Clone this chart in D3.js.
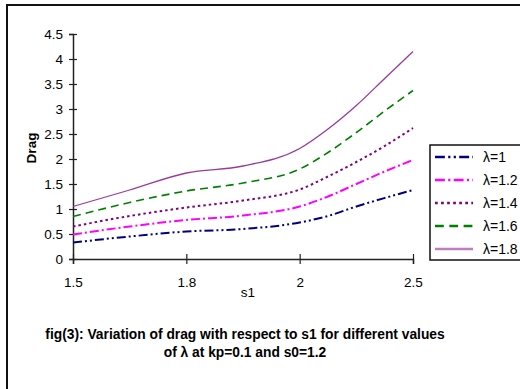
<!DOCTYPE html>
<html>
<head>
<meta charset="utf-8">
<script src="https://cdn.jsdelivr.net/npm/d3@7/dist/d3.min.js"></script>
<style>
  body { margin: 0; padding: 0; background: #fff; }
  svg text { font-family: "Liberation Sans", Arial, sans-serif; fill: #000; }
</style>
</head>
<body>
<svg id="chart" width="520" height="389"></svg>
<script>
// s1 tick labels, equally spaced along the category axis
const s1 = ["1.5", "1.8", "2", "2.5"];
const yTicks = [0, 0.5, 1, 1.5, 2, 2.5, 3, 3.5, 4, 4.5];

// positions along the axis where values were read (0 = 1.5 ... 3 = 2.5)
const pos = [0, 0.5, 1, 1.5, 2, 2.25, 2.5, 2.75, 3];

// drag for each lambda
const lambdas = ["λ=1", "λ=1.2", "λ=1.4", "λ=1.6", "λ=1.8"];
const drag1  = [0.33, 0.45, 0.55, 0.60, 0.73, 0.86, 1.05, 1.22, 1.38];
const drag12 = [0.49, 0.65, 0.78, 0.87, 1.05, 1.25, 1.50, 1.75, 1.98];
const drag14 = [0.65, 0.86, 1.03, 1.17, 1.39, 1.65, 1.94, 2.26, 2.62];
const drag16 = [0.85, 1.13, 1.36, 1.52, 1.80, 2.13, 2.53, 2.96, 3.37];
const drag18 = [1.05, 1.38, 1.72, 1.86, 2.21, 2.60, 3.07, 3.61, 4.15];

const series = [drag1, drag12, drag14, drag16, drag18];
const colors = ["#000080", "#ff00ff", "#800080", "#008000", "#9a3a9e"];
const dashes = ["9 3 2 3 2 3", "9 3 2 3", "2.5 3", "8 5", null];
const widths = [2, 2, 2, 1.6, 1.3];

const svg = d3.select("#chart");

// outer frame
svg.append("rect")
  .attr("x", 7).attr("y", 5)
  .attr("width", 600).attr("height", 420)
  .attr("fill", "none")
  .attr("stroke", "#111")
  .attr("stroke-width", 2);

const x = d3.scaleLinear().domain([0, 3]).range([73, 413]);
const y = d3.scaleLinear().domain([0, 4.5]).range([259, 34]);

// y axis
const gy = svg.append("g")
  .attr("transform", "translate(73,0)")
  .call(d3.axisLeft(y).tickValues(yTicks).tickFormat(d => d).tickSize(4).tickPadding(6));
gy.selectAll(".tick line").attr("x1", 4);
gy.selectAll("text").style("font-size", "13.5px");

// x axis
const gx = svg.append("g")
  .attr("transform", "translate(0,259)")
  .call(d3.axisBottom(x).tickValues(d3.range(s1.length)).tickFormat(i => s1[i]).tickSize(5).tickPadding(13));
gx.selectAll(".tick line").attr("y1", -5);
gx.selectAll("text").style("font-size", "13.5px");

svg.selectAll(".domain").attr("stroke", "#222").attr("stroke-width", 1.5);
svg.selectAll(".tick line").attr("stroke", "#222").attr("stroke-width", 1.2);

// lines
const line = d3.line()
  .x((d, i) => x(pos[i]))
  .y(d => y(d))
  .curve(d3.curveMonotoneX);

svg.append("g").selectAll("path")
  .data(series)
  .join("path")
  .attr("d", line)
  .attr("fill", "none")
  .attr("stroke", (d, i) => colors[i])
  .attr("stroke-width", (d, i) => widths[i])
  .attr("stroke-dasharray", (d, i) => dashes[i]);

// axis titles
svg.append("text")
  .attr("transform", "translate(36,148) rotate(-90)")
  .attr("text-anchor", "middle")
  .style("font-size", "13.5px")
  .style("font-weight", "bold")
  .text("Drag");

svg.append("text")
  .attr("x", 248).attr("y", 297)
  .attr("text-anchor", "middle")
  .style("font-size", "13.5px")
  .text("s1");

// caption
svg.append("text")
  .attr("x", 245).attr("y", 339)
  .attr("text-anchor", "middle")
  .style("font-size", "13.8px")
  .style("font-weight", "bold")
  .text("fig(3): Variation of drag with respect to s1 for different values");
svg.append("text")
  .attr("x", 245).attr("y", 357)
  .attr("text-anchor", "middle")
  .style("font-size", "13.8px")
  .style("font-weight", "bold")
  .text("of λ at kp=0.1 and s0=1.2");

// legend
const lg = svg.append("g").attr("transform", "translate(430,145)");
lg.append("rect")
  .attr("width", 120).attr("height", 115)
  .attr("fill", "#fff")
  .attr("stroke", "#111")
  .attr("stroke-width", 1.5);

const items = lg.selectAll("g.item")
  .data(lambdas)
  .join("g")
  .attr("class", "item")
  .attr("transform", (d, i) => `translate(0,${12 + i * 23})`);

items.append("line")
  .attr("x1", 5).attr("x2", 43)
  .attr("stroke", (d, i) => colors[i])
  .attr("stroke-width", 2.5)
  .attr("stroke-dasharray", (d, i) => dashes[i] ? dashes[i].split(" ").map(v => v * 1.1).join(" ") : null)
  .attr("stroke-opacity", (d, i) => i === 4 ? 0.65 : 1);

items.append("text")
  .attr("x", 53).attr("y", 5)
  .style("font-size", "14px")
  .text(d => d);
</script>
</body>
</html>
